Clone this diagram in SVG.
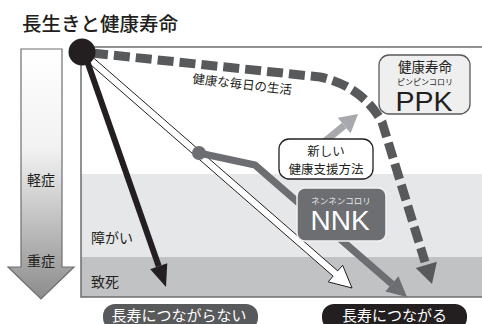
<svg xmlns="http://www.w3.org/2000/svg" width="482" height="324" viewBox="0 0 482 324">
<defs>
<linearGradient id="gr" x1="0" y1="0" x2="0" y2="1">
<stop offset="0" stop-color="#ffffff"/>
<stop offset="0.4" stop-color="#f2f2f2"/>
<stop offset="1" stop-color="#8c8c8c"/>
</linearGradient>
<style>
.t{font-family:"Noto Sans CJK JP","Noto Sans",sans-serif;fill:#231f20}
.w{fill:#fff}
.c{text-anchor:middle}
</style>
</defs>
<rect width="482" height="324" fill="#fff"/>
<text class="t" x="22" y="31" font-size="19.5" font-weight="500">長生きと健康寿命</text>

<g id="scale">
<polygon points="21,49 62,49 62,267 74,267 41,299 8,267 21,267" fill="url(#gr)" stroke="#6d6e71" stroke-width="1.2"/>
<text class="t c" x="41" y="185" font-size="14">軽症</text>
<text class="t c" x="41" y="266" font-size="14">重症</text>
</g>

<g id="chart">
<rect x="81" y="174" width="410" height="83" fill="#e6e7e8"/>
<rect x="81" y="257" width="410" height="40" fill="#c1c2c4"/>
<path d="M490,47 H81 V297 H490" fill="none" stroke="#6d6e71" stroke-width="1.5"/>
<text class="t" x="91" y="243" font-size="14">障がい</text>
<text class="t" x="91" y="287" font-size="14">致死</text>
</g>

<g id="connectors">
<path d="M92,53 L320,77 Q362,86 382,122 L425,262" fill="none" stroke="#58595b" stroke-width="9" stroke-dasharray="16,6"/>
<polygon points="432,284 436.9,261.7 415.8,267.9" fill="#58595b"/>
<text class="t" x="192" y="83" font-size="12.5" transform="rotate(6.6 192 83)">健康な毎日の生活</text>
<polygon points="83.7,58.64 88.3,53.36 337.72,270.9 342.65,265.25 352,288 328.19,281.83 333.12,276.18" fill="#fff" stroke="#231f20" stroke-width="1"/>
<polyline points="199,153 255,165 392,284" fill="none" stroke="#6d6e71" stroke-width="7" stroke-linejoin="round"/>
<polygon points="407,297 398.46,276.35 385.34,291.45" fill="#6d6e71"/>
<circle cx="199" cy="153" r="7" fill="#6d6e71"/>
<line x1="318" y1="147" x2="344.2" y2="125.5" stroke="#a7a9ac" stroke-width="7"/>
<polygon points="358,114 350.6,133.2 337.8,117.8" fill="#a7a9ac"/>
<line x1="85" y1="55" x2="158.75" y2="266.23" stroke="#231f20" stroke-width="6"/>
<polygon points="166,287 167.25,263.26 150.25,269.2" fill="#231f20"/>
</g>

<g id="start">
<circle cx="82" cy="52" r="13.5" fill="#231f20"/>
</g>

<g id="new">
<rect x="279" y="139" width="94" height="40" rx="10" fill="#fff" stroke="#231f20" stroke-width="1.3"/>
<text class="t c" x="326" y="156" font-size="12.5">新しい</text>
<text class="t c" x="326" y="174" font-size="12.5">健康支援方法</text>
</g>

<g id="ppk">
<rect x="379" y="55" width="91" height="59" rx="10" fill="#efeff0" stroke="#58595b" stroke-width="1.3"/>
<text class="t c" x="425" y="72" font-size="13.5">健康寿命</text>
<text class="t c" x="425" y="85" font-size="8">ピンピンコロリ</text>
<text class="c" x="424" y="110.5" font-size="28.5" font-family="Liberation Sans,Arial,sans-serif" fill="#231f20">PPK</text>
</g>

<g id="nnk">
<rect x="297" y="188" width="89" height="53" rx="8" fill="#6d6e71" stroke="#f2f2f2" stroke-width="1.5"/>
<text class="t c" x="341" y="204" font-size="8.5" style="fill:#e6e7e8">ネンネンコロリ</text>
<text class="c" x="340" y="230" font-size="28" font-family="Liberation Sans,Arial,sans-serif" fill="#fff">NNK</text>
</g>

<g id="no">
<rect x="103" y="304" width="155" height="26" rx="12" fill="#58595b"/>
<text class="t c w" x="179" y="321" font-size="15" style="fill:#fff">長寿につながらない</text>
</g>

<g id="yes">
<rect x="322" y="304" width="145" height="26" rx="12" fill="#231f20"/>
<text class="t c w" x="394.5" y="321" font-size="15" style="fill:#fff">長寿につながる</text>
</g>
</svg>
